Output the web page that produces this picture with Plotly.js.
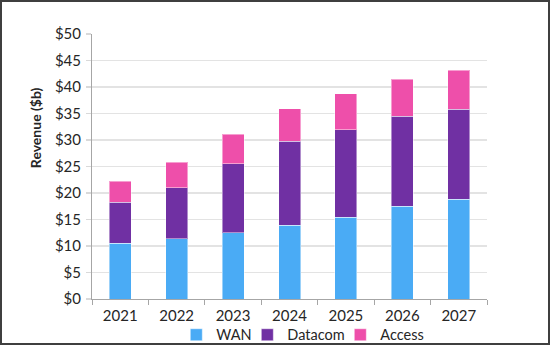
<!DOCTYPE html>
<html>
<head>
<meta charset="utf-8">
<script src="https://cdn.plot.ly/plotly-3.0.1.min.js"></script>
<style>
  html, body { margin: 0; padding: 0; background: #fff; }
  #frame { width: 550px; height: 345px; box-sizing: border-box; border: 2px solid #3f3f3f; overflow: hidden; }
  #chart { width: 546px; height: 341px; }
</style>
</head>
<body>
<div id="frame"><div id="chart"></div></div>
<script>
const years = ["2021", "2022", "2023", "2024", "2025", "2026", "2027"];
const wan = [10.5, 11.4, 12.5, 13.9, 15.4, 17.5, 18.8];
const datacom = [7.8, 9.6, 13.05, 15.85, 16.55, 17.0, 17.0];
const access = [3.9, 4.8, 5.55, 6.15, 6.75, 7.0, 7.4];
const yTickVals = [0, 5, 10, 15, 20, 25, 30, 35, 40, 45, 50];
const yTickText = ["$0", "$5", "$10", "$15", "$20", "$25", "$30", "$35", "$40", "$45", "$50"];

const font = "Lato, 'Open Sans', sans-serif";
const edge = { color: "rgba(255,255,255,0.45)", width: 1 };

const traces = [
  { type: "bar", name: "WAN", x: years, y: wan, legend: "legend", marker: { color: "#4aabf5", line: edge } },
  { type: "bar", name: "Datacom", x: years, y: datacom, legend: "legend2", marker: { color: "#7030a3", line: edge } },
  { type: "bar", name: "Access", x: years, y: access, legend: "legend3", marker: { color: "#ee4faa", line: edge } }
];

const legendFont = { family: font, size: 14.5, color: "#262626" };
function legendAt(x) {
  return {
    orientation: "h",
    xref: "paper", x: x, xanchor: "left",
    yref: "container", y: 0.024, yanchor: "middle",
    font: legendFont, itemclick: false, bgcolor: "rgba(0,0,0,0)"
  };
}

const layout = {
  width: 546, height: 341,
  margin: { l: 89.7, r: 61.3, t: 31.5, b: 44, autoexpand: false },
  paper_bgcolor: "#fff", plot_bgcolor: "#fff",
  barmode: "stack",
  bargap: 0.61,
  font: { family: font, size: 15, color: "#262626" },
  xaxis: {
    type: "category",
    tickson: "boundaries",
    ticks: "outside", ticklen: 5, tickcolor: "#a6a6a6", tickwidth: 1,
    showline: true, linecolor: "#a6a6a6", linewidth: 1,
    showgrid: false,
    tickfont: { family: font, size: 15, color: "#262626" },
    ticklabelstandoff: 3
  },
  yaxis: {
    range: [0, 50],
    tickvals: yTickVals, ticktext: yTickText,
    ticks: "outside", ticklen: 5, tickcolor: "#d9d9d9", tickwidth: 1.5,
    showline: true, linecolor: "#a6a6a6", linewidth: 1,
    showgrid: true, gridcolor: "#e3e3e3", gridwidth: 1.5,
    zeroline: false,
    tickfont: { family: font, size: 15, color: "#262626" },
    ticklabelstandoff: 2
  },
  legend: legendAt(0.2134),
  legend2: legendAt(0.3932),
  legend3: legendAt(0.6286),
  annotations: [{
    text: "<b>Revenue ($b)</b>",
    xref: "paper", yref: "paper",
    x: -0.1435, y: 0.646,
    xanchor: "center", yanchor: "middle",
    textangle: -90, showarrow: false,
    font: { family: font, size: 14, color: "#262626" }
  }],
  showlegend: true
};

Plotly.newPlot("chart", traces, layout, { displayModeBar: false, staticPlot: true });
</script>
</body>
</html>
